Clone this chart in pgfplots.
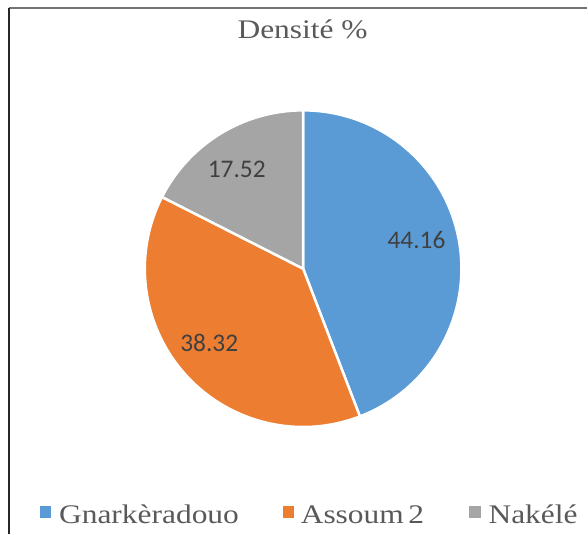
\documentclass[border=0pt]{standalone}
\usepackage{pgfplots}
\usepackage{pgfplotstable}
\pgfplotsset{compat=1.18}
\usepackage{fontspec}
\setmainfont{Liberation Serif}
\newfontfamily\titlefont[FakeStretch=1.17]{Liberation Serif}
\newfontfamily\labelfont{Carlito}
\definecolor{cblue}{HTML}{5B9BD5}
\definecolor{corange}{HTML}{ED7D31}
\definecolor{cgray}{HTML}{A5A5A5}
\definecolor{ctext}{HTML}{595959}
\definecolor{clabel}{HTML}{404040}
\pgfplotstableread{
name value
Gnarkeradouo 44.16
Assoum2 38.32
Nakele 17.52
}\piedata
\begin{document}
\begin{tikzpicture}
\pgfplotstablegetelem{0}{value}\of\piedata \let\va\pgfplotsretval
\pgfplotstablegetelem{1}{value}\of\piedata \let\vb\pgfplotsretval
\pgfplotstablegetelem{2}{value}\of\piedata \let\vc\pgfplotsretval
\pgfmathsetmacro{\total}{\va+\vb+\vc}
\pgfmathsetmacro{\aA}{90-360*\va/\total}
\pgfmathsetmacro{\aB}{\aA-360*\vb/\total}
\pgfmathsetmacro{\aC}{\aB-360*\vc/\total}
\begin{axis}[width=588bp,height=535bp,scale only axis,
  xmin=0,xmax=588,ymin=0,ymax=535,y dir=reverse,hide axis,clip=false]
\path (axis cs:0,0) rectangle (axis cs:588,535);
% frame
\draw[color=black!55,line width=1.5bp] (axis cs:9,8) -- (axis cs:588,8);
\draw[color=black!85,line width=1.2bp] (axis cs:9,8) -- (axis cs:9,535);
% slices
\filldraw[fill=cblue,draw=white,line width=2.5bp,line join=round]
  (axis cs:303.5,269) -- ++(90:158.5bp) arc[start angle=90,end angle=\aA,radius=158.5bp] -- cycle;
\filldraw[fill=corange,draw=white,line width=2.5bp,line join=round]
  (axis cs:303.5,269) -- ++(\aA:158.5bp) arc[start angle=\aA,end angle=\aB,radius=158.5bp] -- cycle;
\filldraw[fill=cgray,draw=white,line width=2.5bp,line join=round]
  (axis cs:303.5,269) -- ++(\aB:158.5bp) arc[start angle=\aB,end angle=\aC,radius=158.5bp] -- cycle;
% data labels
\node[inner sep=0pt,text=clabel,font=\labelfont\fontsize{25.5}{25.5}\selectfont] at (axis cs:417,240) {\va};
\node[inner sep=0pt,text=clabel,font=\labelfont\fontsize{25.5}{25.5}\selectfont] at (axis cs:209.5,343.5) {\vb};
\node[inner sep=0pt,text=clabel,font=\labelfont\fontsize{25.5}{25.5}\selectfont] at (axis cs:237,169.5) {\vc};
% title
\node[anchor=base,inner sep=0pt,text=ctext,font=\titlefont\fontsize{27}{27}\selectfont] at (axis cs:303,39) {Densité \%};
% legend
\fill[cblue] (axis cs:40,507) rectangle (axis cs:51.5,518.5);
\node[anchor=base west,inner sep=0pt,text=ctext,font=\titlefont\fontsize{27}{27}\selectfont] at (axis cs:59,524) {Gnarkèradouo};
\fill[corange] (axis cs:283,507) rectangle (axis cs:294.5,518.5);
\node[anchor=base west,inner sep=0pt,text=ctext,font=\titlefont\fontsize{27}{27}\selectfont] at (axis cs:301,524) {Assoum\,2};
\fill[cgray] (axis cs:470,507) rectangle (axis cs:481.5,518.5);
\node[anchor=base west,inner sep=0pt,text=ctext,font=\titlefont\fontsize{27}{27}\selectfont] at (axis cs:489,524) {Nakélé};
\end{axis}
\end{tikzpicture}
\end{document}
